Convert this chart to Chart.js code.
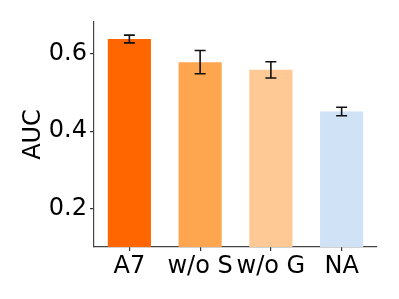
<!DOCTYPE html>
<html>
<head>
<meta charset="utf-8">
<script src="https://cdn.jsdelivr.net/npm/chart.js@4"></script>
<style>
  html, body { margin: 0; padding: 0; background: #fff; }
  #wrap { width: 399px; height: 299px; }
</style>
</head>
<body>
<div id="wrap"><canvas id="auc-chart" width="399" height="299"></canvas></div>
<script>
// chart data
const categories = ['A7', 'w/o S', 'w/o G', 'NA'];
const aucValues = [0.639, 0.579, 0.559, 0.451];
const aucErrors = [0.010, 0.030, 0.021, 0.011];
const barColours = ['#ff6600', '#fea54f', '#fec994', '#cfe2f6'];
const yTicks = [0.2, 0.4, 0.6];

// draws the black error bars on top of each bar
const errorBarPlugin = {
  id: 'errorBars',
  afterDatasetsDraw(chart) {
    const ctx = chart.ctx;
    const meta = chart.getDatasetMeta(0);
    const yScale = chart.scales.y;
    ctx.save();
    ctx.strokeStyle = '#111';
    ctx.lineWidth = 1.6;
    meta.data.forEach(function (bar, i) {
      const x = bar.x;
      const yLo = yScale.getPixelForValue(aucValues[i] - aucErrors[i]);
      const yHi = yScale.getPixelForValue(aucValues[i] + aucErrors[i]);
      ctx.beginPath();
      ctx.moveTo(x, yLo);
      ctx.lineTo(x, yHi);
      ctx.moveTo(x - 5.5, yLo);
      ctx.lineTo(x + 5.5, yLo);
      ctx.moveTo(x - 5.5, yHi);
      ctx.lineTo(x + 5.5, yHi);
      ctx.stroke();
    });
    ctx.restore();
  }
};

const fontFamily = '"DejaVu Sans", sans-serif';

new Chart(document.getElementById('auc-chart'), {
  type: 'bar',
  data: {
    labels: categories,
    datasets: [{
      data: aucValues,
      backgroundColor: barColours,
      borderWidth: 0,
      barPercentage: 0.61,
      categoryPercentage: 1.0
    }]
  },
  options: {
    responsive: false,
    animation: false,
    layout: { padding: { left: 0, top: 22, right: 22, bottom: 0 } },
    plugins: {
      legend: { display: false },
      tooltip: { enabled: false }
    },
    scales: {
      x: {
        grid: { display: true, offset: false, drawOnChartArea: false, tickLength: 4, tickColor: '#333', lineWidth: 1.2 },
        border: { display: true, color: '#444', width: 1.2 },
        ticks: {
          color: '#000',
          font: { family: fontFamily, size: 24 },
          padding: 1,
          maxRotation: 0,
          autoSkip: false
        },
        afterFit(scale) { scale.height = 52; }
      },
      y: {
        min: 0.1,
        max: 0.683,
        afterBuildTicks(scale) {
          scale.ticks = yTicks.map(v => ({ value: v }));
        },
        grid: { display: true, drawOnChartArea: false, tickLength: 4, tickColor: '#333', lineWidth: 1.2 },
        border: { display: true, color: '#444', width: 1.2 },
        ticks: {
          color: '#000',
          font: { family: fontFamily, size: 24 },
          padding: 3,
          callback: v => v.toFixed(1)
        },
        title: {
          display: true,
          text: 'AUC',
          color: '#000',
          font: { family: fontFamily, size: 24 },
          padding: { top: 19, bottom: 0 }
        },
        afterFit(scale) { scale.width = 94; }
      }
    }
  },
  plugins: [errorBarPlugin]
});
</script>
</body>
</html>
